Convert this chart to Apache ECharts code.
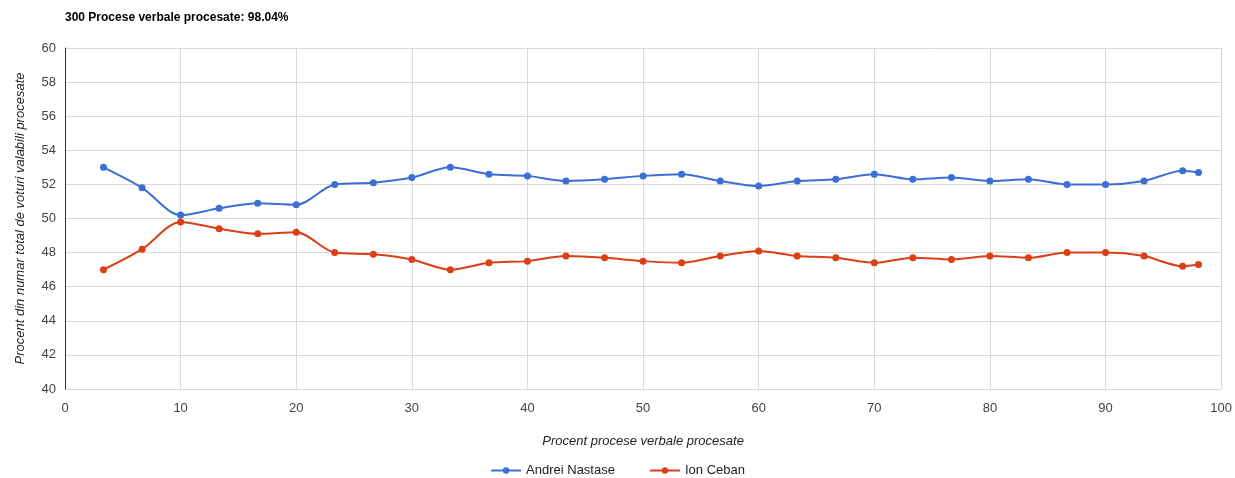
<!DOCTYPE html>
<html>
<head>
<meta charset="utf-8">
<script src="https://cdn.jsdelivr.net/npm/echarts@6/dist/echarts.min.js"></script>
<style>
html,body{margin:0;padding:0;background:#fff;}
#chart{width:1235px;height:478px;}
</style>
</head>
<body>
<div id="chart"></div>
<script>
const titleText = "300 Procese verbale procesate: 98.04%";
const xName = "Procent procese verbale procesate";
const yName = "Procent din numar total de voturi valabili procesate";
const seriesNames = ["Andrei Nastase", "Ion Ceban"];
const xValues = [3.33, 6.67, 10, 13.33, 16.67, 20, 23.33, 26.67, 30, 33.33,
  36.67, 40, 43.33, 46.67, 50, 53.33, 56.67, 60, 63.33, 66.67,
  70, 73.33, 76.67, 80, 83.33, 86.67, 90, 93.33, 96.67, 98.04];
const nastase = [53.0, 51.8, 50.2, 50.6, 50.9, 50.8, 52.0, 52.1, 52.4, 53.0,
  52.6, 52.5, 52.2, 52.3, 52.5, 52.6, 52.2, 51.9, 52.2, 52.3,
  52.6, 52.3, 52.4, 52.2, 52.3, 52.0, 52.0, 52.2, 52.8, 52.7];
const ceban = [47.0, 48.2, 49.8, 49.4, 49.1, 49.2, 48.0, 47.9, 47.6, 47.0,
  47.4, 47.5, 47.8, 47.7, 47.5, 47.4, 47.8, 48.1, 47.8, 47.7,
  47.4, 47.7, 47.6, 47.8, 47.7, 48.0, 48.0, 47.8, 47.2, 47.3];

const colors = ["#3c6fd6", "#dc3e16"];
const font = "Liberation Sans, Arial, sans-serif";

function pairs(ys){ return xValues.map((x,i)=>[x, ys[i]]); }

const chart = echarts.init(document.getElementById('chart'), null, {renderer:'canvas'});
chart.setOption({
  animation:false,
  color: colors,
  textStyle:{fontFamily:font},
  title:{
    text:titleText, left:60, top:7,
    textStyle:{fontFamily:font, fontSize:12, fontWeight:'bold', color:'#000'}
  },
  legend:{
    bottom:-4, left:'center', itemGap:34, itemWidth:30, itemHeight:8,
    textStyle:{fontFamily:font, fontSize:13, color:'#222'},
    data: seriesNames
  },
  grid:{left:65, right:6, top:48, bottom:89, containLabel:false},
  xAxis:{
    type:'value', min:0, max:100, interval:10,
    name:xName, nameLocation:'middle', nameGap:46,
    nameTextStyle:{fontFamily:font, fontStyle:'italic', fontSize:13, color:'#222'},
    axisLine:{show:false},
    axisTick:{show:false},
    axisLabel:{fontFamily:font, fontSize:13, color:'#444', margin:13},
    splitLine:{show:true, lineStyle:{color:'#d9d9d9', width:1}}
  },
  yAxis:{
    type:'value', min:40, max:60, interval:2,
    name:yName, nameLocation:'middle', nameGap:38, nameRotate:90,
    nameTextStyle:{fontFamily:font, fontStyle:'italic', fontSize:13, color:'#222'},
    axisLine:{show:true, onZero:false, lineStyle:{color:'#333', width:1}},
    axisTick:{show:false},
    axisLabel:{fontFamily:font, fontSize:13, color:'#444', margin:9},
    splitLine:{show:true, lineStyle:{color:'#d9d9d9', width:1}}
  },
  series:[
    {name:seriesNames[0], type:'line', smooth:0.3, data:pairs(nastase),
     symbol:'circle', symbolSize:7, lineStyle:{width:2, color:colors[0]},
     itemStyle:{color:colors[0]}},
    {name:seriesNames[1], type:'line', smooth:0.3, data:pairs(ceban),
     symbol:'circle', symbolSize:7, lineStyle:{width:2, color:colors[1]},
     itemStyle:{color:colors[1]}}
  ]
});
</script>
</body>
</html>
